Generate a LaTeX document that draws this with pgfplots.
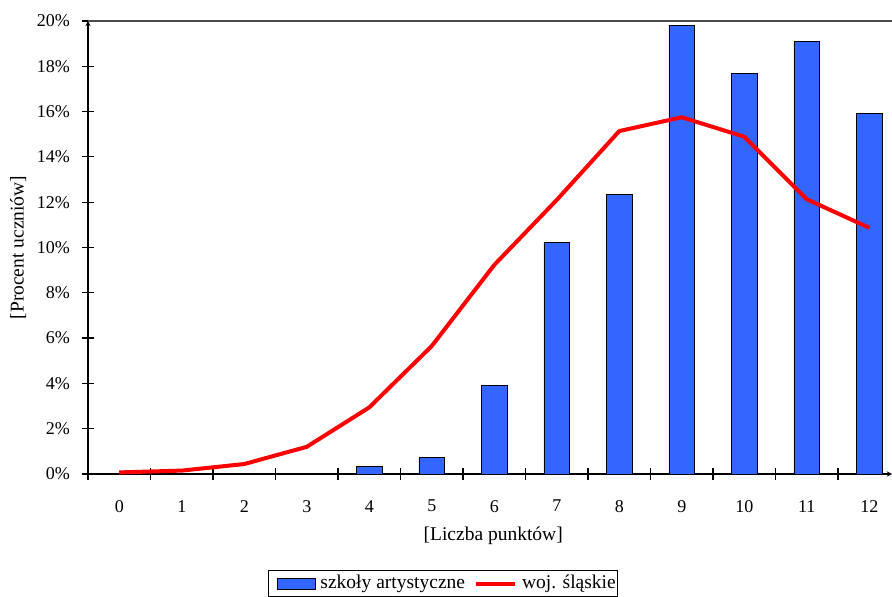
\documentclass[border=0pt]{standalone}
\usepackage{pgfplots}
\pgfplotsset{compat=1.18}
\usepackage{fontspec}
\setmainfont{Liberation Serif}
\definecolor{barblue}{HTML}{3366FF}
\begin{document}
\fontsize{18}{21}\selectfont
\begin{tikzpicture}[x=1pt,y=1pt]
\begin{axis}[
  at={(88pt,123pt)}, anchor=south west,
  scale only axis, width=804pt, height=453pt,
  xmin=-0.5, xmax=12.364, ymin=0, ymax=20,
  axis x line=bottom, axis y line=left,
  axis line style={line width=1.3pt, black},
  every tick/.style={line width=1.2pt, black},
  tick align=center,
  major tick length=12pt, minor tick length=12pt,
  xtick={0,...,12},
  major x tick style={draw=none},
  minor xtick={-0.5,0.5,...,11.5},
  ytick={0,2,...,20},
  yticklabel={\pgfmathprintnumber{\tick}\%},
  /pgf/number format/assume math mode=true,
  xticklabel style={yshift=-14pt},
  yticklabel style={xshift=-6pt},
  xlabel={[Liczba punktów]},
  xlabel style={font=\fontsize{19.5}{22}\selectfont, at={(axis description cs:0.504,-0.137)}, anchor=center},
  ylabel={[Procent uczniów]},
  ylabel style={font=\fontsize{19.5}{22}\selectfont, at={(axis description cs:-0.087,0.5)}, anchor=center},
  clip=false,
  legend columns=2,
  legend style={at={(axis description cs:0.4415,-0.212)}, anchor=north,
    font=\fontsize{19.5}{22}\selectfont,
    draw=black, line width=0.8pt, inner xsep=0.5pt, inner ysep=3pt,
    /tikz/every odd column/.append style={column sep=4pt},
    /tikz/every even column/.append style={column sep=8pt},
    nodes={inner xsep=1pt}},
]
\addplot[ybar, bar width=25.7pt, fill=barblue, draw=black, line width=0.8pt,
  legend image code/.code={\path (-7.5pt,0pt) (35pt,0pt);\draw[fill=barblue, draw=black, line width=0.8pt] (0pt,-5.5pt) rectangle (38pt,5.5pt);}]
  coordinates {(4,0.34) (5,0.72) (6,3.89) (7,10.24) (8,12.36) (9,19.82) (10,17.69) (11,19.10) (12,15.92)};
\addlegendentry{szkoły artystyczne}
\addplot[red, line width=4pt, line join=round,
  legend image code/.code={\draw[red, line width=4pt] (0pt,0pt) -- (39pt,0pt);}]
  coordinates {(0,0.07) (1,0.15) (2,0.44) (3,1.2) (4,2.94) (5,5.65) (6,9.23) (7,12.1) (8,15.14) (9,15.75) (10,14.89) (11,12.13) (12,10.87)};
\addlegendentry{woj. śląskie}
\draw[black!70, line width=1.3pt] (rel axis cs:0,1) -- (rel axis cs:1,1);
\end{axis}
\pgfresetboundingbox
\path (0,0) rectangle (892,597);
\end{tikzpicture}
\end{document}
